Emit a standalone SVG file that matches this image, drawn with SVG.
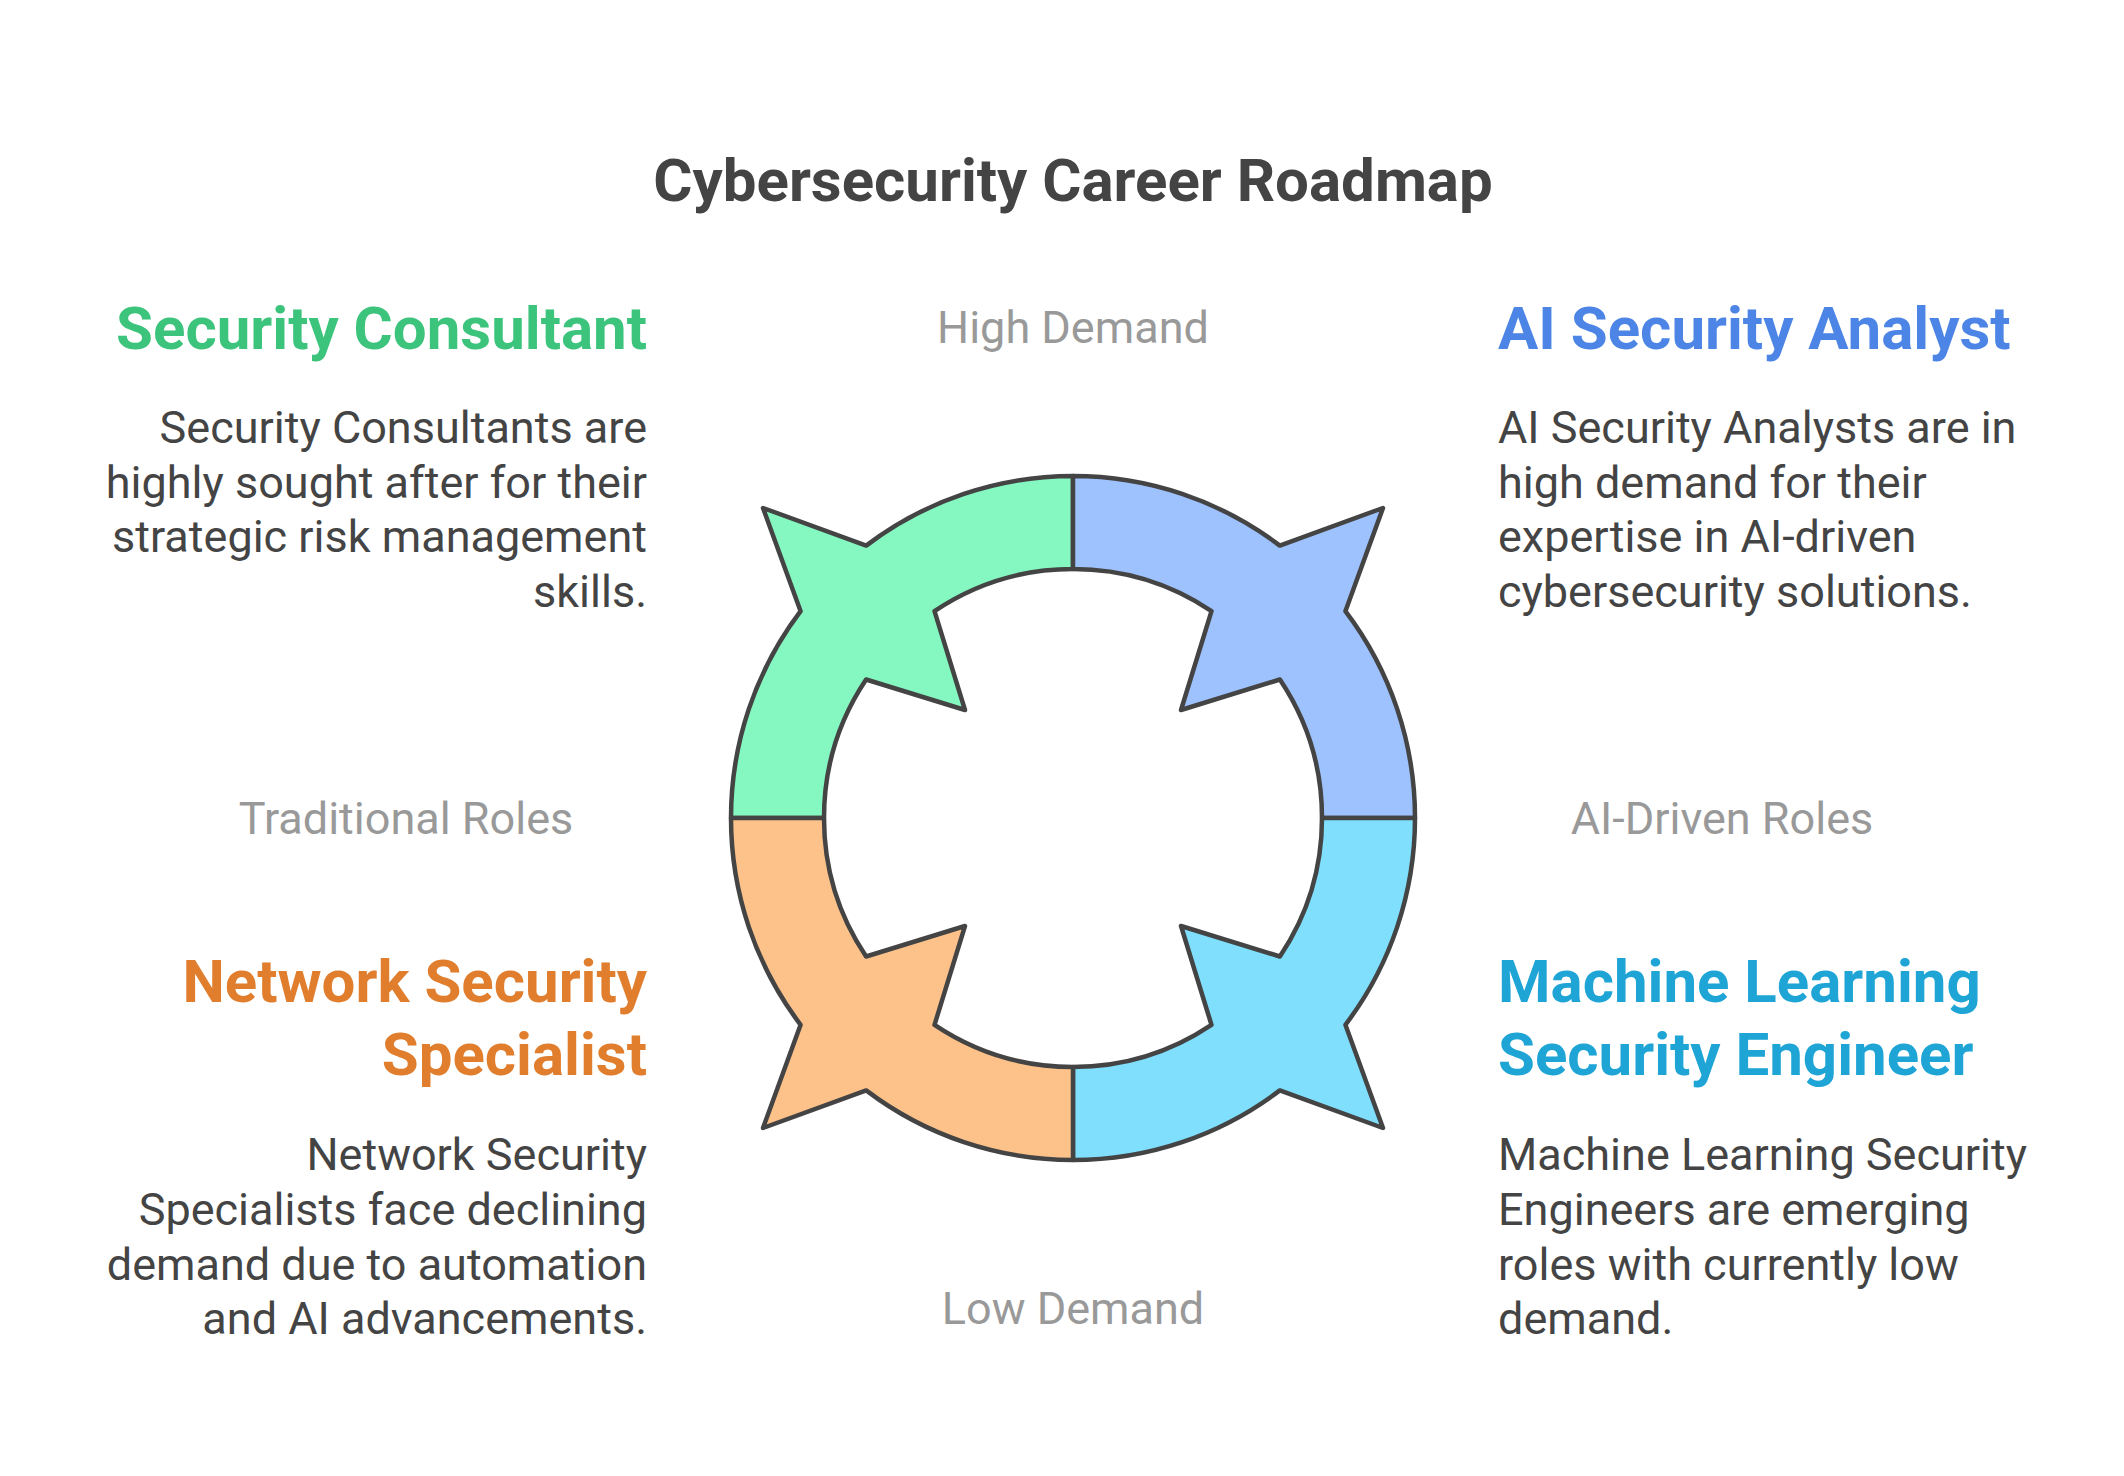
<svg xmlns="http://www.w3.org/2000/svg" width="2124" height="1476" viewBox="0 0 2124 1476">
<style>
text{font-family:Roboto,"Liberation Sans",sans-serif}
.t{font-size:60px;font-weight:bold;fill:#444}
.h{font-size:60px;font-weight:bold}
.b{font-size:45px;fill:#444}
.a{font-size:45px;fill:#999;text-anchor:middle}
.q{stroke:#444;stroke-width:4.5;stroke-linejoin:round}
</style>
<defs>
<path id="seg" d="M -342 0 A 342 342 0 0 1 -272.4 -206.8 L -310 -310 L -206.8 -272.4 A 342 342 0 0 1 0 -342 L 0 -249 A 249 249 0 0 0 -138.5 -206.9 L -108 -108 L -206.9 -138.5 A 249 249 0 0 0 -249 0 Z"/>
</defs>
<rect width="2124" height="1476" fill="#fff"/>
<text class="t" x="1073" y="201" text-anchor="middle">Cybersecurity Career Roadmap</text>
<g transform="translate(1073,818)">
<g id="q-consultant"><use href="#seg" class="q" fill="#85F8C1"/></g>
<g id="q-ai-analyst"><use href="#seg" class="q" fill="#9EC2FD" transform="rotate(90)"/></g>
<g id="q-ml-engineer"><use href="#seg" class="q" fill="#7FDFFD" transform="rotate(180)"/></g>
<g id="q-network"><use href="#seg" class="q" fill="#FDC28A" transform="rotate(270)"/></g>
</g>
<g id="axes">
<text class="a" x="1073" y="343">High Demand</text>
<text class="a" x="1073" y="1324">Low Demand</text>
<text class="a" x="406" y="834">Traditional Roles</text>
<text class="a" x="1722" y="834">AI-Driven Roles</text>
</g>
<g id="n-consultant" text-anchor="end">
<text class="h" x="647" y="349" fill="#3CC47C">Security Consultant</text>
<text class="b" x="647" y="443">Security Consultants are</text>
<text class="b" x="647" y="498">highly sought after for their</text>
<text class="b" x="647" y="552">strategic risk management</text>
<text class="b" x="647" y="607">skills.</text>
</g>
<g id="n-ai-analyst">
<text class="h" x="1498" y="349" fill="#4C85E6">AI Security Analyst</text>
<text class="b" x="1498" y="443">AI Security Analysts are in</text>
<text class="b" x="1498" y="498">high demand for their</text>
<text class="b" x="1498" y="552">expertise in AI-driven</text>
<text class="b" x="1498" y="607">cybersecurity solutions.</text>
</g>
<g id="n-network" text-anchor="end">
<text class="h" x="647" y="1002" fill="#E07E2E">Network Security</text>
<text class="h" x="647" y="1075" fill="#E07E2E">Specialist</text>
<text class="b" x="647" y="1170">Network Security</text>
<text class="b" x="647" y="1225">Specialists face declining</text>
<text class="b" x="647" y="1280">demand due to automation</text>
<text class="b" x="647" y="1334">and AI advancements.</text>
</g>
<g id="n-ml-engineer">
<text class="h" x="1498" y="1002" fill="#1EA5D6">Machine Learning</text>
<text class="h" x="1498" y="1075" fill="#1EA5D6">Security Engineer</text>
<text class="b" x="1498" y="1170">Machine Learning Security</text>
<text class="b" x="1498" y="1225">Engineers are emerging</text>
<text class="b" x="1498" y="1280">roles with currently low</text>
<text class="b" x="1498" y="1334">demand.</text>
</g>
<g id="connectors"></g>
</svg>
